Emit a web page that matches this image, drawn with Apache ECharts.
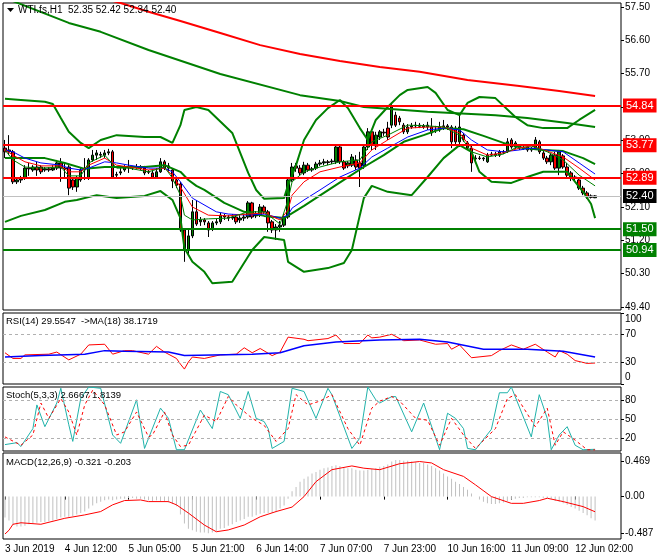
<!DOCTYPE html>
<html><head><meta charset="utf-8">
<script src="https://cdn.jsdelivr.net/npm/echarts@6/dist/echarts.min.js"></script>
<style>html,body{margin:0;padding:0;background:#fff}#c{width:660px;height:560px}</style>
</head><body><div id="c"></div>
<script>
// ---------- DATA ----------
const symbolTitle = 'WTI.fs,H1  52.35 52.42 52.34 52.40';
const rsiTitle = 'RSI(14) 29.5547  ->MA(18) 38.1719';
const stochTitle = 'Stoch(5,3,3) 2.6667 1.8139';
const macdTitle = 'MACD(12,26,9) -0.321 -0.203';

const timeLabels = ['3 Jun 2019','4 Jun 12:00','5 Jun 05:00','5 Jun 21:00','6 Jun 14:00','7 Jun 07:00','7 Jun 23:00','10 Jun 16:00','11 Jun 09:00','12 Jun 02:00'];
const timeLabelBars = [0,15,31,47,63,79,95,111,127,143];

const barOpen = [53.69,53.59,53.59,52.78,52.83,52.88,53.15,53.10,53.18,53.18,53.10,53.13,53.10,53.15,53.29,53.15,53.18,52.83,52.64,52.83,
53.10,52.88,53.37,53.50,53.50,53.50,53.56,53.59,52.96,53.02,53.10,53.18,53.15,53.18,53.15,53.15,53.05,53.02,52.91,53.05,
53.32,53.15,53.10,52.83,52.72,51.48,50.94,51.32,51.97,51.70,51.75,51.67,51.51,51.67,51.70,51.86,51.83,51.80,51.83,51.75,
51.80,51.83,52.21,51.86,51.88,52.10,51.97,51.70,51.48,51.56,51.61,51.83,52.83,53.21,53.15,53.02,53.23,53.10,53.15,53.26,
53.29,53.32,53.32,53.32,53.72,53.32,53.21,53.23,53.37,53.29,53.21,53.72,54.13,53.75,53.99,54.12,54.23,54.31,54.58,54.50,
54.31,54.13,54.26,54.29,54.31,54.29,54.26,54.26,54.18,54.18,54.26,54.29,54.26,54.23,53.86,54.04,53.83,53.69,53.40,53.42,
53.42,53.32,53.50,53.53,53.50,53.59,53.59,53.91,53.72,53.75,53.69,53.72,53.64,53.69,53.86,53.56,53.42,53.32,53.50,53.15,
53.48,53.18,53.02,52.91,52.83,52.61,52.48,52.40,52.35];
const barClose = [53.59,53.64,52.78,52.83,52.86,53.15,53.13,53.18,53.10,53.05,53.13,53.10,53.15,53.29,53.15,53.13,52.61,52.64,52.88,53.10,
53.13,53.37,53.50,53.56,53.52,53.56,53.59,52.91,52.98,53.05,53.18,53.16,53.17,53.16,53.14,53.02,53.04,52.91,53.05,53.32,
53.15,53.21,52.80,52.69,51.48,50.94,51.32,51.97,51.64,51.75,51.70,51.48,51.67,51.70,51.88,51.83,51.80,51.83,51.70,51.80,
51.83,52.21,51.83,51.91,52.10,51.97,51.67,51.48,51.56,51.61,51.83,52.83,53.18,53.15,53.02,53.23,53.10,53.13,53.26,53.29,
53.32,53.30,53.34,53.72,53.32,53.15,53.29,53.45,53.18,53.15,53.72,54.13,53.77,54.04,54.13,54.10,53.99,54.80,54.31,54.40,
54.13,54.26,54.29,54.31,54.28,54.26,54.31,54.10,54.17,54.26,54.29,54.26,53.86,53.86,54.26,53.91,53.69,53.29,53.42,53.41,
53.40,53.50,53.53,53.50,53.59,53.58,53.86,53.72,53.83,53.69,53.68,53.64,53.67,53.91,53.59,53.42,53.32,53.50,53.15,53.59,
53.18,52.96,52.88,52.87,52.61,52.48,52.37,52.36,52.40];
const barHigh = [53.91,54.04,53.64,52.88,52.94,53.23,53.29,53.23,53.32,53.23,53.18,53.18,53.23,53.37,53.42,53.29,53.23,52.88,52.94,53.15,
53.42,53.42,53.64,53.64,53.59,53.64,53.67,53.64,53.05,53.15,53.23,53.37,53.21,53.26,53.23,53.21,53.10,53.10,53.15,53.42,
53.37,53.29,53.15,52.88,52.78,51.53,51.48,52.29,52.29,51.83,51.80,51.72,51.72,51.78,51.94,51.91,51.88,51.91,51.88,51.88,
51.91,52.26,52.24,51.99,52.18,52.15,52.02,51.75,51.64,51.72,51.91,52.88,53.29,53.29,53.23,53.32,53.29,53.18,53.32,53.37,
53.40,53.37,53.40,53.77,53.77,53.37,53.34,53.53,53.50,53.59,53.77,54.23,54.18,54.13,54.18,54.21,54.40,54.88,54.67,54.56,
54.37,54.34,54.37,54.40,54.37,54.34,54.40,54.50,54.29,54.40,54.45,54.34,54.31,54.29,54.58,54.10,53.88,53.75,53.50,53.48,
53.45,53.56,53.59,53.59,53.64,53.64,53.96,53.96,53.88,53.80,53.77,53.77,53.72,53.99,53.91,53.61,53.48,53.56,53.59,53.64,
53.53,53.29,53.07,52.96,52.88,52.67,52.53,52.44,52.42];
const barLow = [53.42,53.50,52.72,52.72,52.75,52.83,52.94,53.05,52.94,52.99,53.05,53.05,53.07,53.10,52.78,52.88,52.42,52.56,52.51,52.78,
52.83,52.83,53.32,53.37,53.42,53.42,53.50,52.86,52.88,52.96,53.05,53.02,53.10,53.13,53.10,52.96,52.99,52.86,52.88,53.02,
53.10,53.05,52.61,52.61,51.43,50.62,50.83,51.26,51.59,51.59,51.61,51.29,51.45,51.61,51.64,51.75,51.72,51.75,51.64,51.67,
51.72,51.78,51.78,51.80,51.83,51.91,51.43,51.40,51.21,51.43,51.56,51.78,52.78,53.05,52.96,52.96,53.05,53.05,53.10,53.21,
53.23,53.23,53.26,53.26,53.26,53.10,53.15,53.18,53.10,52.64,53.13,53.64,53.64,53.64,53.91,54.02,53.91,54.23,54.26,54.31,
54.07,54.07,54.21,54.23,54.23,54.21,54.18,54.02,54.10,54.13,54.18,54.18,53.69,53.75,53.72,53.86,53.64,53.05,53.34,53.37,
53.34,53.29,53.48,53.45,53.45,53.53,53.56,53.67,53.67,53.64,53.64,53.59,53.59,53.64,53.53,53.37,53.26,53.23,53.10,52.96,
53.13,52.88,52.80,52.80,52.56,52.42,52.32,52.33,52.34];

const levelsRed = [54.84, 53.77, 52.89];
const levelsGreen = [51.50, 50.94];
const lastPrice = 52.40;
const priceTicks = [57.50,56.60,55.70,54.80,53.90,53.00,52.10,51.20,50.30,49.40];

// overlays: [bar index, price]
const bbUpper = [[0,55.02],[4,54.99],[10,54.94],[12,54.88],[14,54.50],[16,54.13],[19,53.83],[21,53.69],[24,53.91],[28,54.04],[35,53.99],[39,53.99],[42,53.83],[44,54.31],[45,54.72],[48,54.80],[51,54.72],[57,54.10],[61,53.02],[63,52.56],[65,52.32],[70,52.34],[71,52.69],[73,53.23],[75,53.91],[78,54.45],[81,54.77],[84,54.99],[86,54.77],[89,54.23],[91,53.91],[93,54.45],[96,54.80],[99,55.12],[101,55.26],[106,55.34],[108,55.18],[111,54.72],[114,54.58],[116,54.91],[119,55.07],[123,55.04],[128,54.53],[131,54.31],[135,54.23],[141,54.23],[144,54.45],[148,54.72]];
const bbMiddle = [[0,53.42],[5,53.42],[10,53.42],[15,53.29],[20,53.13],[25,53.18],[30,53.18],[35,53.18],[40,53.23],[44,53.05],[46,52.83],[48,52.67],[50,52.56],[55,52.21],[60,51.97],[65,51.86],[70,51.80],[75,52.13],[80,52.48],[85,52.83],[90,53.18],[95,53.50],[100,53.86],[105,54.04],[110,54.23],[115,54.20],[120,54.02],[125,53.83],[130,53.69],[135,53.64],[140,53.61],[145,53.42],[148,53.26]];
const bbLower = [[0,51.70],[4,51.86],[10,52.02],[15,52.24],[18,52.29],[23,52.42],[28,52.34],[35,52.40],[39,52.53],[42,52.29],[44,51.80],[45,50.99],[47,50.62],[50,50.35],[52,50.04],[57,50.08],[62,50.94],[65,51.29],[70,51.21],[71,50.62],[75,50.35],[81,50.45],[85,50.59],[87,50.94],[89,51.88],[90,52.34],[92,52.67],[96,52.51],[102,52.42],[106,52.91],[110,53.42],[114,53.77],[117,53.59],[119,53.05],[122,52.78],[127,52.75],[131,52.91],[135,53.05],[141,53.05],[145,52.51],[147,52.18],[148,51.80]];
const maSlowGreen = [[2,57.66],[16,57.07],[24,56.83],[36,56.34],[54,55.69],[74,55.12],[84,54.96],[90,54.80],[106,54.67],[123,54.58],[131,54.50],[141,54.37],[148,54.26]];
const maSlowRed = [[26,57.69],[29,57.61],[36,57.37],[44,57.12],[54,56.80],[64,56.47],[74,56.23],[84,56.04],[94,55.88],[104,55.75],[116,55.53],[129,55.37],[139,55.23],[148,55.10]];
const maFastBlue = [[0,53.64],[2,53.59],[5,53.42],[9,53.29],[14,53.23],[16,53.15],[19,53.10],[21,53.15],[25,53.32],[28,53.29],[31,53.23],[36,53.15],[40,53.15],[42,53.05],[44,52.78],[47,52.34],[53,51.97],[56,51.91],[61,51.88],[65,51.91],[69,51.80],[71,51.88],[72,52.07],[75,52.29],[79,52.56],[84,52.91],[89,53.15],[92,53.45],[96,53.69],[101,53.99],[106,54.18],[110,54.23],[114,54.18],[117,53.91],[121,53.64],[125,53.59],[129,53.64],[132,53.69],[136,53.64],[140,53.59],[144,53.29],[148,52.99]];
const maFastRed = [[0,53.64],[2,53.50],[5,53.32],[9,53.21],[14,53.21],[16,53.05],[19,53.05],[21,53.23],[25,53.42],[28,53.23],[31,53.18],[36,53.10],[40,53.15],[42,52.96],[44,52.64],[47,52.10],[51,51.88],[56,51.86],[61,51.91],[65,51.94],[69,51.75],[71,52.02],[72,52.42],[75,52.78],[79,53.05],[84,53.18],[89,53.29],[92,53.64],[96,53.91],[101,54.23],[106,54.26],[110,54.26],[114,54.10],[117,53.69],[121,53.50],[125,53.56],[129,53.69],[132,53.75],[136,53.61],[140,53.45],[144,53.15],[148,52.83]];
const maFastGreen = [[0,53.64],[2,53.37],[5,53.18],[9,53.15],[14,53.18],[16,52.94],[19,52.94],[21,53.29],[25,53.50],[28,53.15],[31,53.15],[36,53.05],[40,53.18],[42,52.88],[44,52.42],[45,51.88],[47,51.75],[51,51.78],[56,51.80],[61,51.97],[65,51.97],[69,51.64],[71,52.29],[72,52.78],[75,53.05],[79,53.18],[84,53.32],[89,53.37],[92,53.86],[96,54.04],[101,54.31],[106,54.29],[110,54.26],[114,54.04],[117,53.59],[121,53.45],[125,53.53],[129,53.75],[132,53.75],[136,53.59],[140,53.37],[144,52.96],[148,52.67]];

const rsiLine = [[0,44],[2,36],[4,36],[5,41],[11,42],[13,45],[16,34],[19,42],[21,55],[25,56],[27,42],[30,47],[32,47],[36,42],[38,53],[40,45],[43,36],[44,28],[45,21],[46,31],[47,38],[50,36],[54,41],[58,42],[60,51],[62,44],[64,50],[67,40],[69,45],[71,66],[75,63],[76,61],[81,64],[83,69],[85,57],[89,57],[91,69],[92,65],[94,66],[97,70],[100,61],[104,62],[108,56],[111,57],[112,49],[114,55],[117,37],[122,40],[124,47],[127,55],[130,49],[133,56],[136,45],[138,38],[139,47],[141,42],[143,33],[146,29],[148,29.55]];
const rsiMaLine = [[0,38],[9,40],[20,42],[25,47],[30,46],[41,45],[45,40],[52,41],[62,42],[69,44],[75,54],[83,59],[94,62],[104,63],[111,59],[120,49],[131,49],[140,46],[148,38.17]];
const rsiLevels = [70, 30];

const stochK = [[0,10],[3,13],[4,7],[7,35],[8,72],[10,38],[13,75],[14,98],[16,41],[17,15],[19,82],[21,100],[24,98],[27,25],[29,12],[33,80],[35,4],[39,67],[41,51],[43,2],[45,2],[49,64],[52,35],[54,93],[56,88],[59,51],[61,93],[63,51],[65,46],[66,35],[67,4],[70,15],[72,98],[75,93],[78,51],[81,98],[82,88],[87,4],[89,20],[91,100],[93,80],[94,75],[97,85],[98,85],[102,30],[105,75],[109,2],[111,59],[113,51],[115,35],[116,4],[118,2],[122,34],[124,91],[126,91],[127,100],[132,22],[134,88],[136,51],[137,2],[139,25],[141,38],[143,9],[145,2],[148,2.67]];
const stochD = [[0,22],[4,9],[7,25],[9,75],[11,51],[14,82],[16,61],[18,25],[20,72],[22,95],[25,72],[28,25],[30,30],[33,61],[36,22],[37,25],[40,61],[42,25],[44,7],[46,9],[50,56],[53,46],[56,85],[58,72],[62,51],[65,40],[68,15],[71,35],[73,88],[76,72],[79,78],[82,88],[86,35],[89,9],[92,67],[94,78],[97,85],[99,78],[103,51],[106,48],[109,9],[112,51],[115,25],[118,4],[123,35],[126,82],[128,88],[133,38],[136,67],[138,9],[140,30],[143,17],[146,2],[148,1.81]];
const stochLevels = [80, 50, 20];

const macdMain = [-0.28,-0.32,-0.38,-0.40,-0.40,-0.39,-0.37,-0.36,-0.35,-0.34,-0.34,-0.33,-0.32,-0.30,-0.28,-0.27,-0.27,-0.26,-0.24,-0.22,
-0.20,-0.16,-0.12,-0.09,-0.07,-0.05,-0.04,-0.05,-0.04,-0.03,-0.03,-0.02,-0.02,-0.03,-0.03,-0.04,-0.05,-0.06,-0.05,-0.06,
-0.06,-0.08,-0.10,-0.13,-0.24,-0.36,-0.43,-0.45,-0.47,-0.48,-0.48,-0.49,-0.48,-0.46,-0.43,-0.42,-0.39,-0.37,-0.34,-0.32,
-0.30,-0.27,-0.27,-0.25,-0.23,-0.22,-0.22,-0.22,-0.21,-0.16,-0.12,-0.03,0.07,0.13,0.20,0.24,0.27,0.31,0.33,0.36,
0.38,0.39,0.41,0.42,0.41,0.39,0.38,0.38,0.36,0.35,0.35,0.36,0.37,0.38,0.40,0.41,0.43,0.47,0.49,0.49,
0.48,0.48,0.47,0.46,0.45,0.45,0.43,0.41,0.38,0.35,0.31,0.27,0.24,0.20,0.17,0.13,0.09,0.04,0.00,-0.04,
-0.07,-0.09,-0.10,-0.10,-0.09,-0.08,-0.06,-0.04,-0.03,-0.02,-0.02,-0.01,-0.01,-0.01,-0.01,-0.02,-0.02,-0.03,-0.06,-0.07,
-0.09,-0.11,-0.14,-0.16,-0.19,-0.22,-0.25,-0.29,-0.321];
const macdSignal = [[0,-0.50],[1,-0.45],[2,-0.37],[4,-0.35],[9,-0.37],[15,-0.29],[20,-0.245],[24,-0.20],[27,-0.11],[30,-0.053],[34,-0.045],[36,-0.067],[41,-0.067],[43,-0.11],[46,-0.22],[50,-0.38],[53,-0.47],[56,-0.446],[60,-0.38],[64,-0.27],[68,-0.20],[72,-0.14],[75,0],[78,0.20],[82,0.36],[87,0.41],[90,0.38],[94,0.36],[99,0.44],[104,0.469],[107,0.45],[110,0.36],[115,0.27],[118,0.157],[122,0],[127,-0.09],[130,-0.09],[134,-0.053],[136,-0.022],[140,-0.067],[145,-0.134],[148,-0.203]];
const macdTicks = [0.469, 0, -0.487];

// ---------- CHART ----------
const SLOTS = 155;
const slots = Array.from({length: SLOTS}, (_, i) => String(i));
const labelAt = {};
timeLabelBars.forEach((b, k) => { labelAt[b] = timeLabels[k]; });
const FONT = 'Liberation Sans';

const grids = [
  {left: 3, width: 618, top: 3, height: 307},
  {left: 3, width: 618, top: 313, height: 71},
  {left: 3, width: 618, top: 387, height: 64},
  {left: 3, width: 618, top: 453, height: 86}
].map(g => Object.assign(g, {show: true, borderColor: '#000', borderWidth: 1, backgroundColor: '#fff'}));

const xAxes = grids.map((g, gi) => ({
  type: 'category', gridIndex: gi, data: slots, boundaryGap: true,
  axisLine: {show: false}, splitLine: {show: false},
  axisTick: gi === 3 ? {show: true, alignWithLabel: true, length: 3, interval: i => labelAt[i] !== undefined, lineStyle: {color: '#000'}} : {show: false},
  axisLabel: gi === 3 ? {show: true, interval: i => labelAt[i] !== undefined, formatter: (v, i) => labelAt[i] || '', align: 'left', color: '#000', fontSize: 10, fontFamily: FONT, margin: 5} : {show: false}
}));

function yAx(gi, min, max, ticks, fmt, rich) {
  return {
    type: 'value', gridIndex: gi, position: 'right', min: min, max: max,
    splitLine: {show: false}, axisLine: {show: false},
    axisTick: {show: true, customValues: ticks, length: 3, lineStyle: {color: '#000'}},
    axisLabel: {customValues: ticks, formatter: fmt, color: '#000', fontSize: 10, fontFamily: FONT, margin: 4, rich: rich || {}}
  };
}
const edgeRich = (pad) => ({
  t: {padding: [pad, 0, 0, 0], fontSize: 10, fontFamily: FONT, color: '#000'},
  b: {padding: [0, 0, pad, 0], fontSize: 10, fontFamily: FONT, color: '#000'}
});
const yAxes = [
  yAx(0, 49.319, 57.608, priceTicks, v => v.toFixed(2)),
  yAx(1, 0, 100, [0, 30, 70, 100], v => v === 100 ? '{t|100}' : (v === 0 ? '{b|0}' : String(v)), edgeRich(13)),
  yAx(2, 0, 100, [0, 20, 50, 80, 100], v => v === 100 ? '{t|100}' : (v === 0 ? '{b|0}' : String(v)), edgeRich(7)),
  yAx(3, -0.567, 0.583, macdTicks, v => v === 0 ? '0.00' : v.toFixed(3))
];

function line(data, color, width, gi, z, dashed) {
  return {type: 'line', xAxisIndex: gi, yAxisIndex: gi, data: data, symbol: 'none', smooth: false, z: z,
    lineStyle: {color: color, width: width, type: dashed ? [3, 3] : 'solid'}, silent: true, clip: true};
}

function levelItem(v, color, width) {
  return {yAxis: v, lineStyle: {color: color, width: width, type: 'solid'},
    label: {show: true, position: 'end', distance: 2, formatter: v.toFixed(2), color: '#fff', backgroundColor: color === '#c0c0c0' ? '#000' : color,
      padding: [2, 3, 1, 3], fontSize: 11, fontFamily: FONT}};
}
const levelData = [].concat(
  levelsRed.map(v => levelItem(v, '#ff0000', 2)),
  levelsGreen.map(v => levelItem(v, '#008000', 2)),
  [levelItem(lastPrice, '#c0c0c0', 1)]
);

const candles = barOpen.map((o, i) => [o, barClose[i], barLow[i], barHigh[i]]);

const dashedLevels = (vals) => ({symbol: ['none', 'none'], silent: true, label: {show: false},
  lineStyle: {color: '#b0b0b0', width: 1, type: [3, 3]}, data: vals.map(v => ({yAxis: v}))});

const series = [
  {type: 'candlestick', xAxisIndex: 0, yAxisIndex: 0, data: candles, barWidth: 3, z: 2,
    itemStyle: {color: '#008000', color0: '#ff0000', borderColor: '#000', borderColor0: '#000', borderWidth: 1},
    markLine: {symbol: ['none', 'none'], silent: true, animation: false, z: 6, data: levelData}},
  line(maSlowRed, '#ff0000', 2, 0, 3),
  line(maSlowGreen, '#008000', 2, 0, 3),
  line(bbUpper, '#008000', 2, 0, 3),
  line(bbMiddle, '#008000', 2, 0, 3),
  line(bbLower, '#008000', 2, 0, 3),
  line(maFastBlue, '#0000ff', 1, 0, 4),
  line(maFastRed, '#ff0000', 1, 0, 4),
  line(maFastGreen, '#008000', 1, 0, 4),
  Object.assign(line(rsiLine, '#ff0000', 1, 1, 4), {markLine: dashedLevels(rsiLevels)}),
  line(rsiMaLine, '#0000ff', 1.5, 1, 5),
  Object.assign(line(stochK, '#20b2aa', 1, 2, 4), {markLine: dashedLevels(stochLevels)}),
  line(stochD, '#ff0000', 1, 2, 5, true),
  {type: 'bar', xAxisIndex: 3, yAxisIndex: 3, data: macdMain, barWidth: 1, z: 2, silent: true, itemStyle: {color: '#c0c0c0'}},
  line(macdSignal, '#ff0000', 1, 3, 4)
];

const graphic = [
  {type: 'polygon', shape: {points: [[7, 8], [14, 8], [10.5, 12]]}, style: {fill: '#000'}, z: 100},
  {type: 'text', left: 18, top: 5, style: {text: symbolTitle, fill: '#000', font: '10px "Liberation Sans"'}, z: 100},
  {type: 'text', left: 6, top: 316, style: {text: rsiTitle, fill: '#000', font: '9.5px "Liberation Sans"'}, z: 100},
  {type: 'text', left: 6, top: 390, style: {text: stochTitle, fill: '#000', font: '9.5px "Liberation Sans"'}, z: 100},
  {type: 'text', left: 6, top: 457, style: {text: macdTitle, fill: '#000', font: '9.5px "Liberation Sans"'}, z: 100}
];

const chart = echarts.init(document.getElementById('c'), null, {renderer: 'canvas'});
chart.setOption({
  animation: false,
  backgroundColor: '#fff',
  textStyle: {fontFamily: FONT},
  grid: grids, xAxis: xAxes, yAxis: yAxes, series: series, graphic: graphic
});
</script>
</body></html>
